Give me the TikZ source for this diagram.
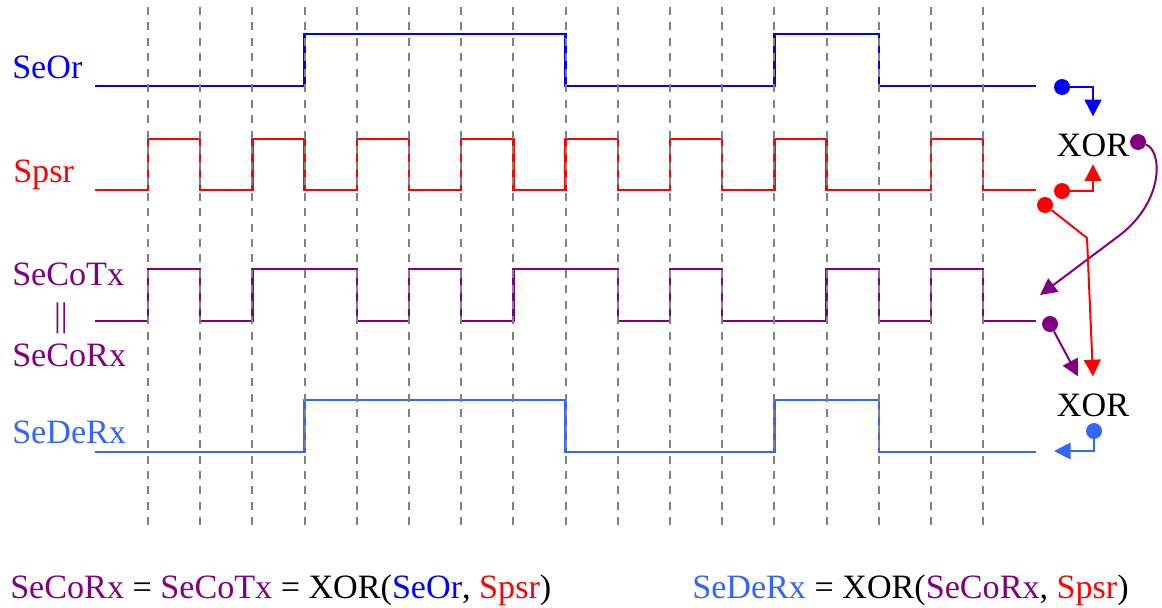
\documentclass[tikz,border=0pt]{standalone}
\usepackage{fontspec}
\setmainfont{Liberation Serif}
\usetikzlibrary{arrows.meta}
\definecolor{seor}{RGB}{0,0,255}
\definecolor{spsr}{RGB}{255,0,0}
\definecolor{seco}{RGB}{128,0,128}
\definecolor{sede}{RGB}{51,102,255}
\definecolor{gridgray}{RGB}{128,128,128}
\tikzset{
    gridline/.style={gridgray,line width=1.4pt,dash pattern=on 6pt off 5.6pt},
    wave/.style={line width=1.8pt},
    conn/.style={line width=1.5pt,-{Triangle[length=12.5pt,width=12.5pt]}},
    dot/.style={circle,inner sep=0pt,minimum size=12pt},
    sig/.style={anchor=base west,inner sep=0pt,font=\fontsize{25.6}{30}\selectfont},
    gate/.style={anchor=base,text height=23.5pt,text depth=0pt,inner ysep=6pt,
        font=\fontsize{25.6}{30}\selectfont},
}

\begin{document}
\begin{tikzpicture}[x=0.75pt,y=-0.75pt]
    \useasboundingbox (0,0) rectangle (1162,607);

    \draw[wave,seor] (95,86) -| (304.6,34) -| (565.6,86) -| (774.4,34) -| (878.8,86) -- (1036,86);
    \draw[wave,spsr] (95,190) -| (148,139) -| (200.2,190) -| (252.4,139) -| (304.6,190)
        -| (356.8,139) -| (409,190) -| (461.2,139) -| (513.4,190) -| (565.6,139)
        -| (617.8,190) -| (670,139) -| (722.2,190) -| (774.4,139) -| (826.6,190)
        -| (931,139) -| (983.2,190) -- (1036,190);
    \draw[wave,seco] (95,321) -| (148,269) -| (200.2,321) -| (252.4,269) -| (356.8,321)
        -| (409,269) -| (461.2,321) -| (513.4,269) -| (617.8,321) -| (670,269)
        -| (722.2,321) -| (826.6,269) -| (878.8,321) -| (931,269) -| (983.2,321) -- (1036,321);
    \draw[wave,sede] (95,452) -| (304.6,400) -| (565.6,452) -| (774.4,400) -| (878.8,452) -- (1036,452);

    \foreach \k in {0,1,...,16}{
            \draw[gridline] ({148+52.2*\k},7) -- ({148+52.2*\k},532);
        }

    \node[sig,seor] (lblOr) at (12,78) {SeOr};
    \node[sig,spsr] (lblPs) at (13,182) {Spsr};
    \node[sig,seco] (lblTx) at (12,285) {SeCoTx};
    \node[seco,inner sep=0pt,font=\fontsize{25.6}{30}\selectfont] (lblEq) at (61,318) {||};
    \node[sig,seco] (lblRx) at (12,366) {SeCoRx};
    \node[sig,sede] (lblDe) at (12,443) {SeDeRx};

    \node[gate] (xorTop) at (1093,156) {XOR};
    \node[gate] (xorBot) at (1093,416) {XOR};

    \node[dot,fill=seor] (orDot) at (1062,87) {};
    \node[dot,fill=spsr] (psDotA) at (1062,191) {};
    \node[dot,fill=spsr] (psDotB) at (1045,205) {};
    \node[dot,fill=seco] (coDotA) at (1138,142) {};
    \node[dot,fill=seco] (coDotB) at (1050,324) {};
    \node[dot,fill=sede] (deDot) at (1094,431) {};
    \coordinate (psBend) at (1087,238);
    \coordinate (coIn) at (1040,295);
    \coordinate (deOut) at (1054,451);

    \draw[conn,seor] (orDot) -| (xorTop.north);
    \draw[conn,spsr] (psDotA) -| (xorTop.south);
    \draw[conn,seco] (coDotA) .. controls (1162,150) and (1165,200) .. (1120,235) -- (coIn);
    \draw[conn,spsr] (psDotB) -- (psBend) -- (xorBot.north);
    \draw[conn,seco] (coDotB) -- (xorBot.122);
    \draw[conn,sede] (deDot) |- (deOut);

    \node[sig] (eqRx) at (10,598) {\textcolor{seco}{SeCoRx} = \textcolor{seco}{SeCoTx} = XOR(\textcolor{seor}{SeOr}, \textcolor{spsr}{Spsr})};
    \node[sig] (eqDe) at (692,598) {\textcolor{sede}{SeDeRx} = XOR(\textcolor{seco}{SeCoRx}, \textcolor{spsr}{Spsr})};
\end{tikzpicture}
\end{document}
